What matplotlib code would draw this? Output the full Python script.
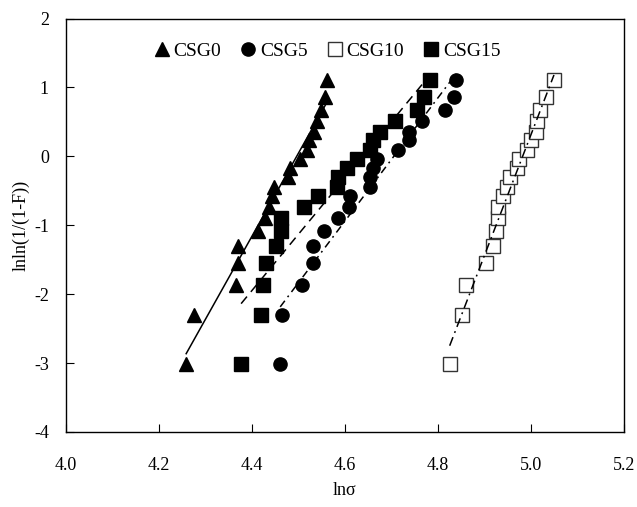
import numpy as np
import matplotlib
matplotlib.use("Agg")
import matplotlib.pyplot as plt

plt.rcParams['font.family'] = ['Liberation Serif', 'DejaVu Serif']
plt.rcParams['mathtext.fontset'] = 'stix'
plt.rcParams['axes.unicode_minus'] = False

# Weibull ordinate values (lnln(1/(1-F))), shared by all series
y_vals = [-3.02, -2.30, -1.87, -1.55, -1.30, -1.09, -0.90, -0.74, -0.58, -0.44,
          -0.30, -0.17, -0.04, 0.09, 0.23, 0.36, 0.51, 0.67, 0.86, 1.11]

csg0_x = [4.259, 4.276, 4.366, 4.371, 4.371, 4.414, 4.429, 4.436, 4.443, 4.448,
          4.478, 4.482, 4.504, 4.518, 4.523, 4.534, 4.540, 4.548, 4.558, 4.561]
csg5_x = [4.461, 4.465, 4.507, 4.531, 4.532, 4.554, 4.585, 4.608, 4.610, 4.653,
          4.654, 4.660, 4.669, 4.713, 4.737, 4.737, 4.766, 4.814, 4.835, 4.839]
csg10_x = [4.825, 4.852, 4.859, 4.903, 4.917, 4.925, 4.928, 4.929, 4.940, 4.948,
           4.955, 4.970, 4.973, 4.992, 5.000, 5.010, 5.013, 5.018, 5.031, 5.049]
csg15_x = [4.377, 4.419, 4.425, 4.431, 4.452, 4.462, 4.462, 4.513, 4.543, 4.583,
           4.586, 4.604, 4.626, 4.654, 4.660, 4.676, 4.708, 4.755, 4.769, 4.782]

labels = ["CSG0", "CSG5", "CSG10", "CSG15"]
xticks = [4.0, 4.2, 4.4, 4.6, 4.8, 5.0, 5.2]
yticks = [-4, -3, -2, -1, 0, 1, 2]

fig = plt.figure(figsize=(6.37, 5.07), dpi=100)
ax = fig.add_axes([0.103, 0.148, 0.877, 0.8155])

series = [
    (csg0_x, dict(marker='^', ms=10.5, mfc='black', mec='black'), '-'),
    (csg5_x, dict(marker='o', ms=9.5, mfc='black', mec='black'), (0, (5, 3, 1.2, 3))),
    (csg10_x, dict(marker='s', ms=9.5, mfc='white', mec='#333333', mew=1.0), (0, (6, 3, 1.2, 3))),
    (csg15_x, dict(marker='s', ms=9.5, mfc='black', mec='black'), (0, (6, 4))),
]

handles = []
for (xs, mk, ls), lab in zip(series, labels):
    xs = np.array(xs)
    ys = np.array(y_vals)
    h, = ax.plot(xs, ys, linestyle='none', label=lab, **mk)
    handles.append(h)
    k, b = np.polyfit(xs, ys, 1)
    xl = np.array([xs.min(), xs.max()])
    ax.plot(xl, k * xl + b, color='black', linestyle=ls, linewidth=1.1)

ax.set_xlim(4.0, 5.2)
ax.set_ylim(-4, 2)
ax.set_xticks(xticks)
ax.set_xticklabels([f"{v:.1f}" for v in xticks])
ax.set_yticks(yticks)
ax.tick_params(direction='in', length=6, width=0.8, labelsize=13, top=False, right=False)
ax.tick_params(axis='x', pad=18)
ax.tick_params(axis='y', pad=12)
for s in ax.spines.values():
    s.set_linewidth(1.0)

ax.set_xlabel("lnσ", fontsize=13, labelpad=6)
ax.set_ylabel("lnln(1/(1-F))", fontsize=13, labelpad=3)

ax.legend(handles=handles, loc='upper center', bbox_to_anchor=(0.468, 0.97), ncol=4,
          frameon=False, fontsize=14, handlelength=0.8, handletextpad=0.2,
          columnspacing=1.0, borderaxespad=0.2)

fig.savefig("out.png", dpi=100)
